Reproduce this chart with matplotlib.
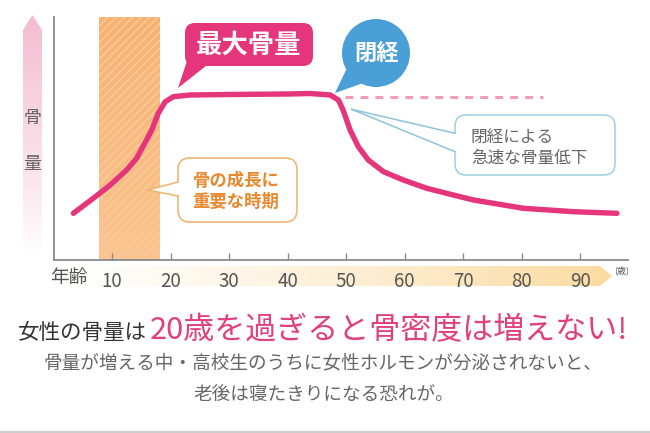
import numpy as np
import matplotlib
matplotlib.use("Agg")
import matplotlib.pyplot as plt
from matplotlib.patches import FancyBboxPatch, Polygon, Circle
from matplotlib.colors import to_rgb

plt.rcParams['font.family'] = ['Noto Sans CJK JP', 'DejaVu Sans']
plt.rcParams['hatch.linewidth'] = 1.2

# ---------------- data ----------------
ages = [3.4, 6.8, 9.7, 12.5, 14.2, 15.6, 16.8, 17.9, 19.1, 20.5, 23.3, 30, 40,
        43.9, 47.3, 48.7, 49.5, 50.7, 52.1, 53.8, 56.4, 59.8, 63.8, 69.5, 71.8,
        80.3, 88.9, 96.3]
bone_mass = [46.7, 61.7, 75, 90, 101.7, 116.7, 130, 146.7, 158.3, 163.3, 165,
             165.5, 166, 166.5, 165, 160, 150, 130, 113.3, 100, 88.3, 80, 71.7,
             63.3, 60, 51.7, 48.3, 46.7]
no_menopause_ages = [49.8, 83.7]
no_menopause_level = [163.3, 163.3]
growth_period = [7.8, 18.2]
xticks = [10, 20, 30, 40, 50, 60, 70, 80, 90]
xlim = [0, 98.2]
ylim = [0, 243]

PINK = '#e5357b'
GRAY = '#666666'

fig = plt.figure(figsize=(6.5, 4.33), dpi=100)

# background overlay in pixel coordinates
bg = fig.add_axes([0, 0, 1, 1], zorder=0)
bg.set_xlim(0, 650); bg.set_ylim(433, 0); bg.axis('off')

# main axes
ax = fig.add_axes([53.5 / 650, (433 - 260) / 433, 574.5 / 650, 243 / 433], zorder=1)
ax.patch.set_alpha(0)

# foreground overlay in pixel coordinates
fg = fig.add_axes([0, 0, 1, 1], zorder=2)
fg.set_xlim(0, 650); fg.set_ylim(433, 0); fg.axis('off')
fg.patch.set_alpha(0)

# ---- left pink gradient arrow ----
arrow_poly = Polygon([(23, 30), (32.5, 15), (42, 30), (42, 256), (23, 256)],
                     closed=True, facecolor='none', edgecolor='none')
bg.add_patch(arrow_poly)
n = 256
img = np.zeros((n, 1, 4))
img[:, 0, :3] = to_rgb('#f4bcd0')
img[:, 0, 3] = np.linspace(1, 0, n) ** 0.9
im = bg.imshow(img, extent=[23, 42, 256, 15], aspect='auto', origin='upper',
               interpolation='bilinear')
im.set_clip_path(arrow_poly)
bg.text(32.5, 118, '骨', ha='center', va='center', fontsize=13, color=GRAY)
bg.text(32.5, 164, '量', ha='center', va='center', fontsize=13, color=GRAY)

# ---- x-axis gradient arrow band ----
band_poly = Polygon([(45, 266), (600, 266), (612, 276), (600, 286), (45, 286)],
                    closed=True, facecolor='none', edgecolor='none')
bg.add_patch(band_poly)
img2 = np.zeros((1, n, 4))
img2[0, :, :3] = to_rgb('#fbdba0')
img2[0, :, 3] = np.linspace(0, 1, n) ** 1.3
im2 = bg.imshow(img2, extent=[45, 612, 286, 266], aspect='auto', origin='upper',
                interpolation='bilinear')
im2.set_clip_path(band_poly)

# ---- growth period band ----
ngr = 128
img3 = np.zeros((ngr, 1, 3))
c_top = np.array(to_rgb('#f7b171'))
c_bot = np.array(to_rgb('#fac590'))
for i in range(ngr):
    t = i / (ngr - 1)
    img3[i, 0, :] = c_top * (1 - t) + c_bot * t
ax.imshow(img3, extent=[growth_period[0], growth_period[1], ylim[0], ylim[1]],
          aspect='auto', origin='upper', zorder=1)
ax.axvspan(growth_period[0], growth_period[1], facecolor='none',
           edgecolor='#fbc898', hatch='////', lw=0, zorder=1.5)

# ---- curves ----
ax.plot(no_menopause_ages, no_menopause_level, color='#f29cba', lw=2.2,
        ls=(0, (2.6, 2.3)), zorder=3)
ax.plot(ages, bone_mass, color=PINK, lw=3.9, solid_capstyle='round',
        solid_joinstyle='round', zorder=4)

ax.set_xlim(*xlim)
ax.set_ylim(*ylim)
ax.set_xticks(xticks)
ax.set_xticklabels([str(t) for t in xticks])
ax.set_yticks([])
for s in ['top', 'right']:
    ax.spines[s].set_visible(False)
for s in ['left', 'bottom']:
    ax.spines[s].set_color('#8a8a8a')
    ax.spines[s].set_linewidth(1.3)
ax.tick_params(axis='x', direction='in', length=5, width=1, color='#8a8a8a',
               labelsize=13.5, labelcolor='#555555', pad=8)

fg.text(69, 277, '年齢', ha='center', va='center', fontsize=13.5, color='#555555')
fg.text(622, 270, '(歳)', ha='center', va='center', fontsize=6.5, color='#555555')

# ---- callout: 最大骨量 ----
fg.add_patch(Polygon([(188, 58), (216, 58), (178, 88)], closed=True,
                     facecolor=PINK, edgecolor='none'))
fg.add_patch(FancyBboxPatch((185, 23), 128, 43, boxstyle='round,pad=0,rounding_size=10',
                            facecolor=PINK, edgecolor='none'))
fg.text(249, 45, '最大骨量', ha='center', va='center', fontsize=19,
        color='white', fontweight='bold')

# ---- callout: 閉経 ----
BLUE = '#4a9fd6'
fg.add_patch(Polygon([(348, 66), (366, 82), (335, 93)], closed=True,
                     facecolor=BLUE, edgecolor='none'))
fg.add_patch(Circle((376, 53), 34, facecolor=BLUE, edgecolor='none'))
fg.text(376, 53, '閉経', ha='center', va='center', fontsize=16,
        color='white', fontweight='bold')

# ---- callout: 閉経による急速な骨量低下 ----
fg.add_patch(FancyBboxPatch((455, 115), 160, 60, boxstyle='round,pad=0,rounding_size=11',
                            facecolor='white', edgecolor='#9fcfe0', lw=1.1))
fg.add_patch(Polygon([(351.7, 109.3), (456.5, 133.3), (456.5, 151.7)], closed=True,
                     facecolor='white', edgecolor='none'))
fg.plot([351.7, 455], [109.3, 133.3], color='#8cc4d8', lw=1.1)
fg.plot([351.7, 455], [109.3, 151.7], color='#8cc4d8', lw=1.1)
fg.text(471, 137, '閉経による', ha='left', va='center', fontsize=12, color=GRAY)
fg.text(471, 158, '急速な骨量低下', ha='left', va='center', fontsize=12, color=GRAY)

# ---- callout: 骨の成長に重要な時期 ----
ORANGE_EDGE = '#f0b676'
fg.add_patch(FancyBboxPatch((178, 158), 119, 64, boxstyle='round,pad=0,rounding_size=12',
                            facecolor='white', edgecolor=ORANGE_EDGE, lw=1.2))
fg.add_patch(Polygon([(148, 190), (179, 182), (179, 196)], closed=True,
                     facecolor='white', edgecolor='none'))
fg.plot([148, 178], [190, 182], color=ORANGE_EDGE, lw=1.2)
fg.plot([148, 178], [190, 196], color=ORANGE_EDGE, lw=1.2)
fg.text(236, 181.5, '骨の成長に', ha='center', va='center', fontsize=12.5,
        color='#e8892f', fontweight='bold')
fg.text(236, 201.5, '重要な時期', ha='center', va='center', fontsize=12.5,
        color='#e8892f', fontweight='bold')

# ---- bottom text ----
fg.text(18, 333, '女性の骨量は', ha='left', va='center', fontsize=15.5, color='#333333')
fg.text(150, 331, '20歳を過ぎると骨密度は増えない!', ha='left', va='center',
        fontsize=22.3, color='#e0407f')
fg.text(323, 363, '骨量が増える中・高校生のうちに女性ホルモンが分泌されないと、',
        ha='center', va='center', fontsize=13.4, color=GRAY)
fg.text(324, 395, '老後は寝たきりになる恐れが。', ha='center', va='center',
        fontsize=13.4, color=GRAY)
fg.plot([0, 650], [431.5, 431.5], color='#cccccc', lw=1.5)

fig.savefig('out.png', dpi=100)
